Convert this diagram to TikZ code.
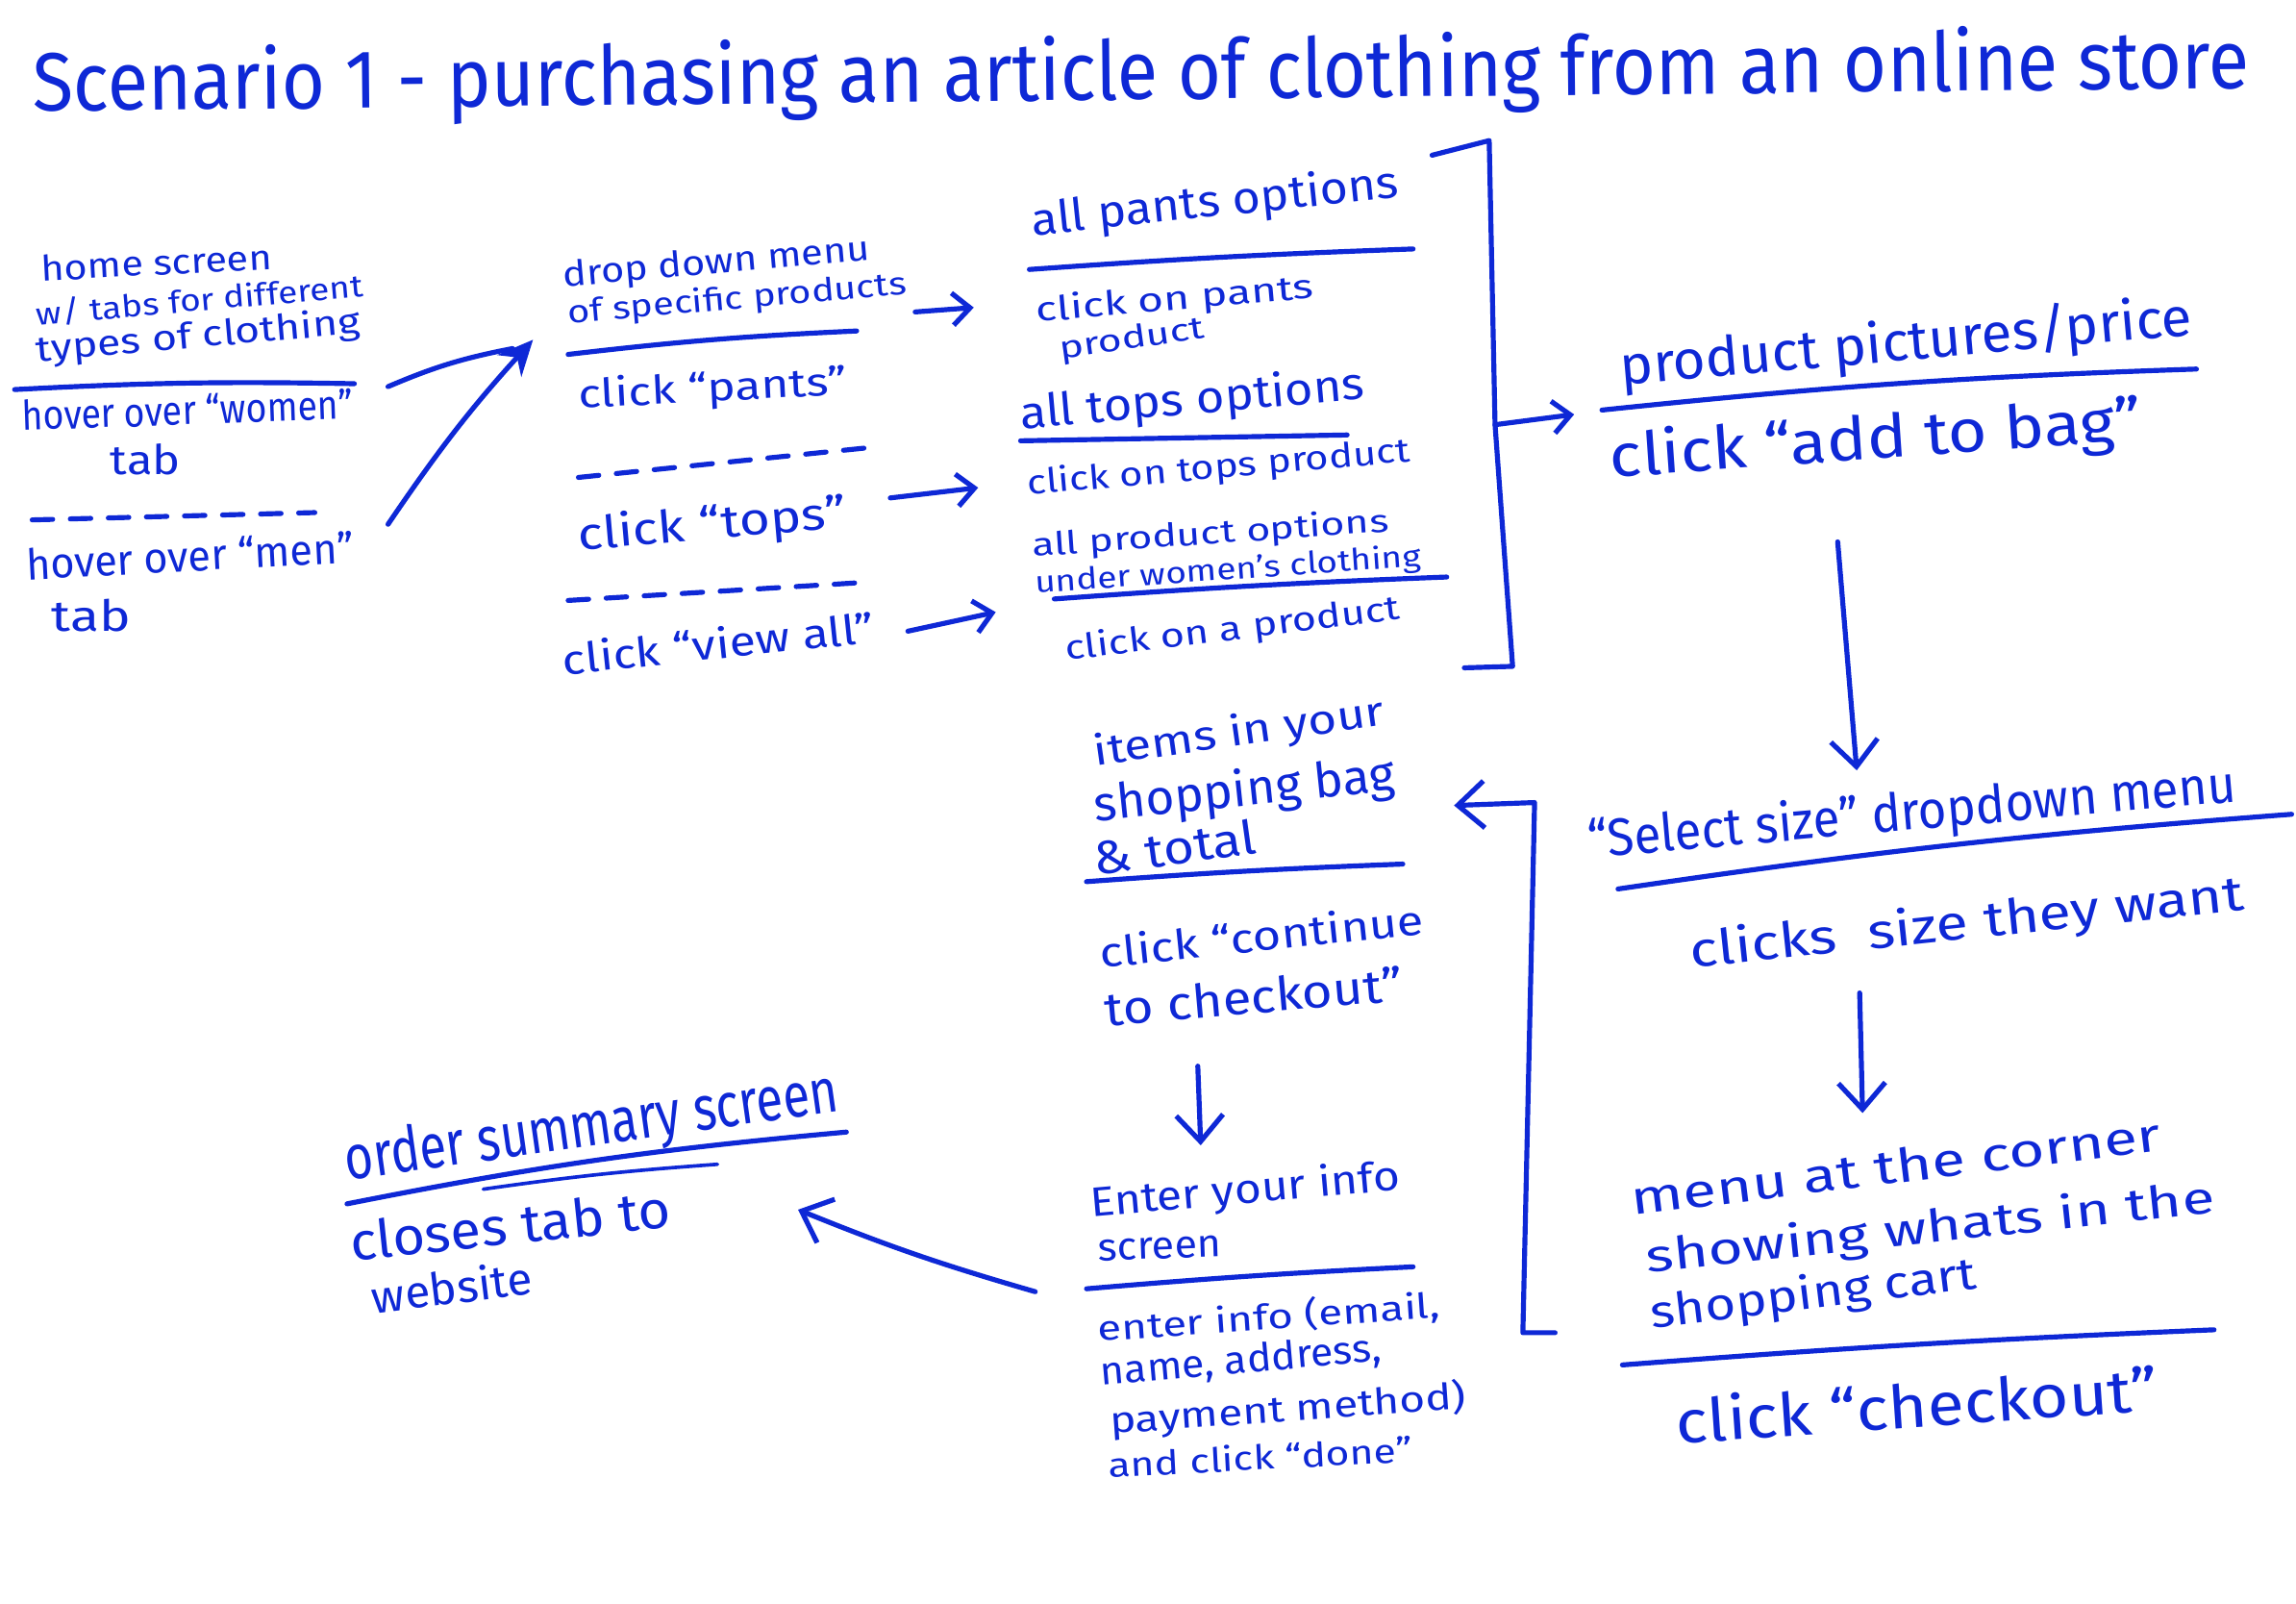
\documentclass[tikz,border=0pt]{standalone}
\usepackage{fontspec}
\setmainfont{Fira Sans}
\usetikzlibrary{arrows.meta}
\definecolor{ink}{RGB}{14,40,214}
% width, ascender height, text
\newcommand\hw[3]{\resizebox{#1}{#2}{\vphantom{Hl}#3}}
\begin{document}
\begin{tikzpicture}[x=0.5pt,y=-0.5pt,
  hw/.style={anchor=base west, inner sep=0pt, text=ink},
  pen/.style={draw=ink, line width=1.7pt, line cap=round, line join=round},
  dashpen/.style={pen, dash pattern=on 7pt off 6pt},
  openhead/.style={pen, -{Straight Barb[length=6pt,width=11pt,line width=1.7pt]}},
  bighead/.style={pen, -{Straight Barb[length=9pt,width=16pt,line width=1.7pt]}},
  fillhead/.style={pen, -{Stealth[length=12pt,width=11pt]}}]
\path[use as bounding box, fill=white] (0,0) rectangle (1568,1095);

% title
\node[hw, rotate=0.6] (title) at (22,76) {\hw{757pt}{22pt}{Scenario 1 - purchasing an article of clothing from an online store}};

% home block
\node[hw, rotate=3] (h1) at (28,192) {\hw{79pt}{9pt}{home screen}};
\node[hw, rotate=5] (h2) at (25,222) {\hw{112pt}{8.5pt}{w/ tabs for different}};
\node[hw, rotate=5] (h3) at (25,247) {\hw{111pt}{9.5pt}{types of clothing}};
\draw[pen] (10,266) to[bend left=2] (242,262);
\node[hw, rotate=2] (h4) at (15,294) {\hw{113pt}{10.5pt}{hover over “women”}};
\node[hw] (h5) at (75,324) {\hw{24pt}{10.5pt}{tab}};
\draw[dashpen] (22,355) -- (215,350);
\node[hw, rotate=3] (h6) at (18,396) {\hw{112pt}{11pt}{hover over “men”}};
\node[hw] (h7) at (35,431) {\hw{27pt}{11pt}{tab}};

\coordinate (a1s) at (265,264);
\coordinate (a2s) at (265,358);
\coordinate (aend) at (364,232);
\draw[pen] (a1s) to[bend left=6] (350,238);
\draw[fillhead] (a2s) to[bend left=4] (aend);

% dropdown block
\node[hw, rotate=5] (d1) at (385,196) {\hw{105pt}{9pt}{drop down menu}};
\node[hw, rotate=5] (d2) at (388,221) {\hw{116pt}{8.5pt}{of specific products}};
\draw[pen] (388,242) to[bend left=2] (585,226);
\node[hw, rotate=3] (d3) at (395,279) {\hw{92pt}{10.5pt}{click “pants”}};
\draw[dashpen] (395,326) -- (600,305);
\node[hw, rotate=5] (d4) at (395,376) {\hw{92pt}{12pt}{click “tops”}};
\draw[dashpen] (388,410) -- (585,398);
\node[hw, rotate=6] (d5) at (385,461) {\hw{107pt}{11pt}{click “view all”}};

\coordinate (b1s) at (625,213); \coordinate (b1e) at (665,210);
\coordinate (b2s) at (608,340); \coordinate (b2e) at (668,333);
\coordinate (b3s) at (620,431); \coordinate (b3e) at (680,418);
\draw[openhead] (b1s) -- (b1e);
\draw[openhead] (b2s) -- (b2e);
\draw[openhead] (b3s) -- (b3e);

% options block
\node[hw, rotate=6] (o1) at (705,161) {\hw{126pt}{12pt}{all pants options}};
\draw[pen] (703,184) to[bend left=1] (965,170);
\node[hw, rotate=5] (o2) at (708,220) {\hw{95pt}{9pt}{click on pants}};
\node[hw, rotate=8] (o3) at (724,245) {\hw{50pt}{8pt}{product}};
\node[hw, rotate=5] (o4) at (697,293) {\hw{118pt}{12pt}{all tops options}};
\draw[pen] (697,301) -- (920,297);
\node[hw, rotate=5] (o5) at (702,338) {\hw{131pt}{9pt}{click on tops product}};
\node[hw, rotate=4] (o6) at (705,380) {\hw{122pt}{8.5pt}{all product options}};
\node[hw, rotate=4] (o7) at (707,405) {\hw{132pt}{8pt}{under women's clothing}};
\draw[pen] (720,409) to[bend left=1] (988,394);
\node[hw, rotate=7] (o8) at (728,451) {\hw{115pt}{9pt}{click on a product}};
\coordinate (brmid) at (1021,290);
\draw[pen] (978,106) -- (1017,96) -- (brmid) -- (1033,455) -- (1000,456);
\coordinate (c1e) at (1075,283);
\draw[openhead] (brmid) -- (c1e);

% product block
\node[hw, rotate=5] (p1) at (1107,263) {\hw{196pt}{15pt}{product pictures/price}};
\draw[pen] (1094,280) to[bend left=2] (1500,252);
\node[hw, rotate=4] (p2) at (1100,326) {\hw{182pt}{16pt}{click “add to bag”}};
\coordinate (e1s) at (1255,370); \coordinate (e1e) at (1268,526);
\draw[bighead] (e1s) -- (e1e);

% select size block
\node[hw, rotate=5] (s1) at (1085,586) {\hw{222pt}{14pt}{“Select size” dropdown menu}};
\draw[pen] (1105,607) to[bend left=2] (1565,556);
\node[hw, rotate=6] (s2) at (1155,661) {\hw{190pt}{13pt}{clicks\ \ size they want}};
\coordinate (e2s) at (1270,678); \coordinate (e2e) at (1272,760);
\draw[bighead] (e2s) -- (e2e);

% menu block
\node[hw, rotate=7] (m1) at (1115,830) {\hw{182pt}{12pt}{menu at the corner}};
\node[hw, rotate=6] (m2) at (1125,869) {\hw{195pt}{12pt}{showing whats in the}};
\node[hw, rotate=7] (m3) at (1128,907) {\hw{112pt}{12pt}{shopping cart}};
\draw[pen] (1108,932) to[bend left=1] (1512,908);
\node[hw, rotate=4] (m4) at (1145,986) {\hw{165pt}{16pt}{click “checkout”}};

% return arrow
\coordinate (r0) at (1062,910);
\coordinate (r1) at (1040,910);
\coordinate (r2) at (1048,548);
\coordinate (r3) at (993,550);
\draw[bighead] (r0) -- (r1) -- (r2) -- (r3);

% items block
\node[hw, rotate=8] (i1) at (748,523) {\hw{100pt}{11pt}{items in your}};
\node[hw, rotate=6] (i2) at (748,561) {\hw{103pt}{13pt}{shopping bag}};
\node[hw, rotate=8] (i3) at (748,598) {\hw{56pt}{12pt}{\& total}};
\draw[pen] (742,602) to[bend left=1] (958,590);
\node[hw, rotate=6] (i4) at (752,661) {\hw{111pt}{11pt}{click “continue}};
\node[hw, rotate=5] (i5) at (755,701) {\hw{102pt}{12pt}{to checkout”}};
\coordinate (e3s) at (818,728); \coordinate (e3e) at (820,782);
\draw[bighead] (e3s) -- (e3e);

% enter info block
\node[hw, rotate=5] (n1) at (745,831) {\hw{106pt}{11pt}{Enter your info}};
\node[hw, rotate=2] (n2) at (750,861) {\hw{42pt}{10pt}{screen}};
\draw[pen] (742,880) to[bend left=1] (965,865);
\node[hw, rotate=4] (n3) at (750,916) {\hw{117pt}{10pt}{enter info (email,}};
\node[hw, rotate=5] (n4) at (752,946) {\hw{96pt}{10pt}{name, address,}};
\node[hw, rotate=4] (n5) at (758,979) {\hw{122pt}{10.5pt}{payment method)}};
\node[hw, rotate=3] (n6) at (757,1009) {\hw{104pt}{9pt}{and click “done”}};
\coordinate (e4s) at (707,882); \coordinate (e4e) at (545,826);
\draw[bighead] (e4s) to[bend left=3] (e4e);

% order summary block
\node[hw, rotate=8] (q1) at (237,806) {\hw{170pt}{16pt}{order summary screen}};
\draw[pen] (237,822) to[bend left=3] (578,773);
\draw[pen, line width=1.2pt] (330,812) to[bend left=2] (490,795);
\node[hw, rotate=6] (q2) at (240,861) {\hw{110pt}{13.5pt}{closes\ tab to}};
\node[hw, rotate=7] (q3) at (255,897) {\hw{55pt}{12pt}{website}};
\end{tikzpicture}
\end{document}
